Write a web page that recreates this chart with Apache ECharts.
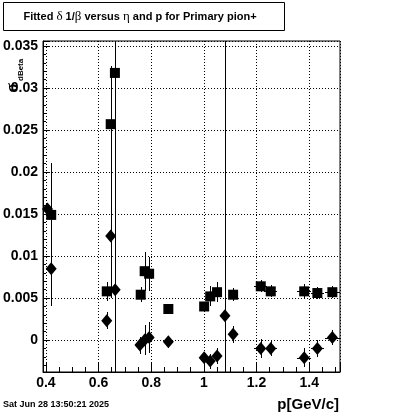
<!DOCTYPE html>
<html>
<head>
<meta charset="utf-8">
<script src="https://cdn.jsdelivr.net/npm/echarts@6/dist/echarts.min.js"></script>
<style>
html,body{margin:0;padding:0;background:#fff;}
#c{width:400px;height:414px;}
</style>
</head>
<body>
<div id="c"></div>
<script>
// ---- data ----
const sqX  = [0.420, 0.631, 0.646, 0.662, 0.760, 0.775, 0.792, 0.865, 1.001, 1.024, 1.050, 1.111, 1.216, 1.254, 1.381, 1.431, 1.488];
const sqY  = [0.0149, 0.0058, 0.0257, 0.0318, 0.0054, 0.0082, 0.0079, 0.0037, 0.0040, 0.0052, 0.0057, 0.0054, 0.0064, 0.0058, 0.0058, 0.0056, 0.0057];
const sqEy = [0.0062, 0.0011, 0.0069, 0.0450, 0.0009, 0.0023, 0.0020, 0.0006, 0.0005, 0.0012, 0.0012, 0.0008, 0.0007, 0.0007, 0.0009, 0.0007, 0.0007];
const sqEx = [0, 0, 0, 0, 0, 0, 0, 0, 0, 0, 0, 0, 0.024, 0.024, 0.026, 0.026, 0.028];

const dmX  = [0.406, 0.420, 0.631, 0.646, 0.663, 0.757, 0.775, 0.792, 0.865, 1.001, 1.024, 1.050, 1.080, 1.111, 1.216, 1.254, 1.381, 1.431, 1.488];
const dmY  = [0.0156, 0.0085, 0.0023, 0.0124, 0.0060, -0.0006, 0.0000, 0.0003, -0.0002, -0.0021, -0.0025, -0.0019, 0.0029, 0.0007, -0.0010, -0.0010, -0.0021, -0.0010, 0.0003];
const dmEy = [0.0004, 0.0045, 0.0010, 0.0074, 0.0008, 0.0010, 0.0018, 0.0018, 0.0007, 0.0006, 0.0009, 0.0009, 0.0500, 0.0010, 0.0011, 0.0009, 0.0011, 0.0010, 0.0009];
const dmEx = [0, 0, 0, 0, 0, 0, 0, 0, 0, 0, 0, 0, 0, 0, 0.024, 0.024, 0.026, 0.026, 0.028];

const xRange = [0.389, 1.517];
const yRange = [-0.0038, 0.0356];

const titleText = '{b|Fitted }{g|δ}{b| 1/}{g|β}{b| versus }{g|η}{b| and p for Primary pion+}';
const xTitle = 'p[GeV/c]';
const yTitleMain = 'σ';
const yTitleSub = 'dBeta';
const dateText = 'Sat Jun 28 13:50:21 2025';

// ---- chart ----
const chart = echarts.init(document.getElementById('c'), null, {renderer: 'canvas'});
const SANS = '"Liberation Sans", Arial, sans-serif';
const SERIF = '"Liberation Serif", "DejaVu Serif", serif';

function errRender(params, api) {
  const x = api.value(0), y = api.value(1), ex = api.value(2), ey = api.value(3);
  const cy = v => Math.max(yRange[0], Math.min(yRange[1], v));
  const cx = v => Math.max(xRange[0], Math.min(xRange[1], v));
  const children = [];
  if (ey > 0) {
    const a = api.coord([x, cy(y - ey)]), b = api.coord([x, cy(y + ey)]);
    const px = Math.round(a[0]);
    const top = Math.round(b[1]), bot = Math.round(a[1]);
    children.push({type: 'rect', shape: {x: px, y: top, width: 1, height: bot - top}, style: {fill: '#000', opacity: 1}});
  }
  if (ex > 0) {
    const a = api.coord([cx(x - ex), y]), b = api.coord([cx(x + ex), y]);
    const py = Math.round(a[1]);
    const l = Math.round(a[0]), r = Math.round(b[0]);
    children.push({type: 'rect', shape: {x: l, y: py, width: r - l, height: 1}, style: {fill: '#000', opacity: 1}});
  }
  return {type: 'group', children};
}

const sqErrData = sqX.map((x, i) => [x, sqY[i], sqEx[i], sqEy[i]]);
const dmErrData = dmX.map((x, i) => [x, dmY[i], dmEx[i], dmEy[i]]);
const sqData = sqX.map((x, i) => [x, sqY[i]]);
const dmData = dmX.map((x, i) => [x, dmY[i]]);

const labelStyle = {color: '#000', fontFamily: SANS, fontWeight: 'bold', fontSize: 14};

const option = {
  animation: false,
  backgroundColor: '#fff',
  grid: {left: 41, top: 41, right: 60, bottom: 42, show: true, borderColor: '#000', borderWidth: 1, backgroundColor: 'transparent'},
  xAxis: {
    type: 'value', min: xRange[0], max: xRange[1], splitNumber: 5,
    axisLine: {show: true, onZero: false, lineStyle: {color: '#000', width: 1}},
    axisTick: {show: true, inside: true, length: 9, lineStyle: {color: '#000'}},
    minorTick: {show: true, splitNumber: 4, length: 5, lineStyle: {color: '#000'}},
    splitLine: {show: true, lineStyle: {color: '#000', type: [1, 2], width: 1}},
    axisLabel: Object.assign({margin: 4, showMinLabel: false, showMaxLabel: false}, labelStyle)
  },
  yAxis: {
    type: 'value', min: yRange[0], max: yRange[1], splitNumber: 8,
    axisLine: {show: true, onZero: false, lineStyle: {color: '#000', width: 1}},
    axisTick: {show: true, inside: true, length: 6, lineStyle: {color: '#000'}},
    minorTick: {show: true, splitNumber: 5, length: 3, lineStyle: {color: '#000'}},
    splitLine: {show: true, lineStyle: {color: '#000', type: [1, 2], width: 1}},
    axisLabel: Object.assign({margin: 5, showMinLabel: false, showMaxLabel: false}, labelStyle)
  },
  series: [
    {type: 'custom', name: 'sqErr', renderItem: errRender, data: sqErrData, encode: {x: 0, y: 1}, z: 2, silent: true, itemStyle: {opacity: 1}},
    {type: 'custom', name: 'dmErr', renderItem: errRender, data: dmErrData, encode: {x: 0, y: 1}, z: 2, silent: true, itemStyle: {opacity: 1}},
    {type: 'scatter', name: 'squares', data: sqData, symbol: 'rect', symbolSize: 10, itemStyle: {color: '#000', opacity: 1}, z: 3},
    {type: 'scatter', name: 'diamonds', data: dmData, symbol: 'diamond', symbolSize: [11, 13], itemStyle: {color: '#000', opacity: 1}, z: 3}
  ],
  graphic: [
    {type: 'rect', shape: {x: 3.5, y: 2.5, width: 281, height: 28}, style: {fill: '#fff', stroke: '#000', lineWidth: 1}, z: 10},
    {type: 'text', x: 140, y: 17, z: 11, style: {
      text: titleText, textAlign: 'center', textVerticalAlign: 'middle',
      rich: {
        b: {fontFamily: SANS, fontWeight: 'bold', fontSize: 11, fill: '#000'},
        g: {fontFamily: SERIF, fontWeight: 'normal', fontSize: 13, fill: '#000'}
      }
    }},
    {type: 'text', x: 3, y: 405, z: 11, style: {text: dateText, fontFamily: SANS, fontWeight: 'bold', fontSize: 9, fill: '#000', textAlign: 'left', textVerticalAlign: 'middle'}},
    {type: 'text', x: 339, y: 405, z: 11, style: {text: xTitle, fontFamily: SANS, fontWeight: 'bold', fontSize: 15, fill: '#000', textAlign: 'right', textVerticalAlign: 'middle'}},
    {type: 'text', x: 13, y: 88, rotation: Math.PI / 2, z: 11, style: {text: yTitleMain, fontFamily: SERIF, fontWeight: 'bold', fontSize: 17, fill: '#000', textAlign: 'center', textVerticalAlign: 'middle'}},
    {type: 'text', x: 21, y: 81, rotation: Math.PI / 2, z: 11, style: {text: yTitleSub, fontFamily: SANS, fontWeight: 'bold', fontSize: 8, fill: '#000', textAlign: 'left', textVerticalAlign: 'middle'}}
  ]
};
chart.setOption(option);
</script>
</body>
</html>
